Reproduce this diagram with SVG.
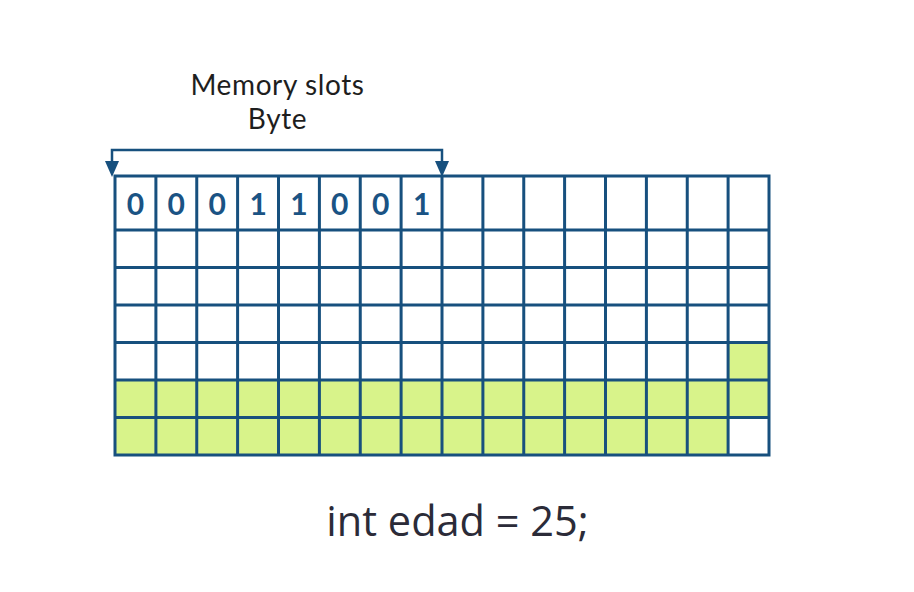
<svg xmlns="http://www.w3.org/2000/svg" width="914" height="592" viewBox="0 0 914 592">
<defs>
<style>
.grid{stroke:#17507e;stroke-width:3;fill:none}
.g{fill:#d8f38a}
.lbl{font-family:Lato,"Open Sans",sans-serif;font-size:28px;fill:#1e1e1e;text-anchor:middle;letter-spacing:0.6px}
.bit{font-family:Lato,"Open Sans",sans-serif;font-size:30px;font-weight:bold;fill:#1a5384;text-anchor:middle}
.code{font-family:"Open Sans","Noto Sans",sans-serif;font-size:41.5px;fill:#2b2b38;text-anchor:middle}
.br{stroke:#17507e;stroke-width:2.5;fill:none}
.ah{fill:#17507e}
</style>
</defs>
<rect width="914" height="592" fill="#ffffff"/>
<g id="labels">
<text class="lbl" x="277.5" y="95">Memory slots</text>
<text class="lbl" x="277.5" y="129">Byte</text>
</g>
<g id="connectors">
<path class="br" d="M112,170 L112,150 L442,150 L442,170"/>
<path class="ah" d="M105,161 L119,161 L112,177 z"/>
<path class="ah" d="M435,161 L449,161 L442,177 z"/>
</g>
<g id="memory-grid">
<g id="fills">
<rect class="g" x="728.1" y="342.5" width="40.9" height="37.5"/>
<rect class="g" x="115" y="380" width="654" height="37.5"/>
<rect class="g" x="115" y="417.5" width="613.1" height="37.5"/>
</g>
<g id="lines" class="grid">
<rect x="115" y="176" width="654" height="279"/>
<path d="M115,230H769M115,267.5H769M115,305H769M115,342.5H769M115,380H769M115,417.5H769"/>
<path d="M155.9,176V455M196.75,176V455M237.6,176V455M278.5,176V455M319.4,176V455M360.25,176V455M401.1,176V455M442,176V455M482.9,176V455M523.75,176V455M564.6,176V455M605.5,176V455M646.4,176V455M687.25,176V455M728.1,176V455"/>
</g>
<g id="bits">
<text class="bit" x="135.4" y="215">0</text>
<text class="bit" x="176.3" y="215">0</text>
<text class="bit" x="217.2" y="215">0</text>
<text class="bit" x="258.1" y="215">1</text>
<text class="bit" x="299" y="215">1</text>
<text class="bit" x="339.8" y="215">0</text>
<text class="bit" x="380.7" y="215">0</text>
<text class="bit" x="421.6" y="215">1</text>
</g>
</g>
<g id="code">
<text class="code" x="457.5" y="536">int edad = 25;</text>
</g>
</svg>
